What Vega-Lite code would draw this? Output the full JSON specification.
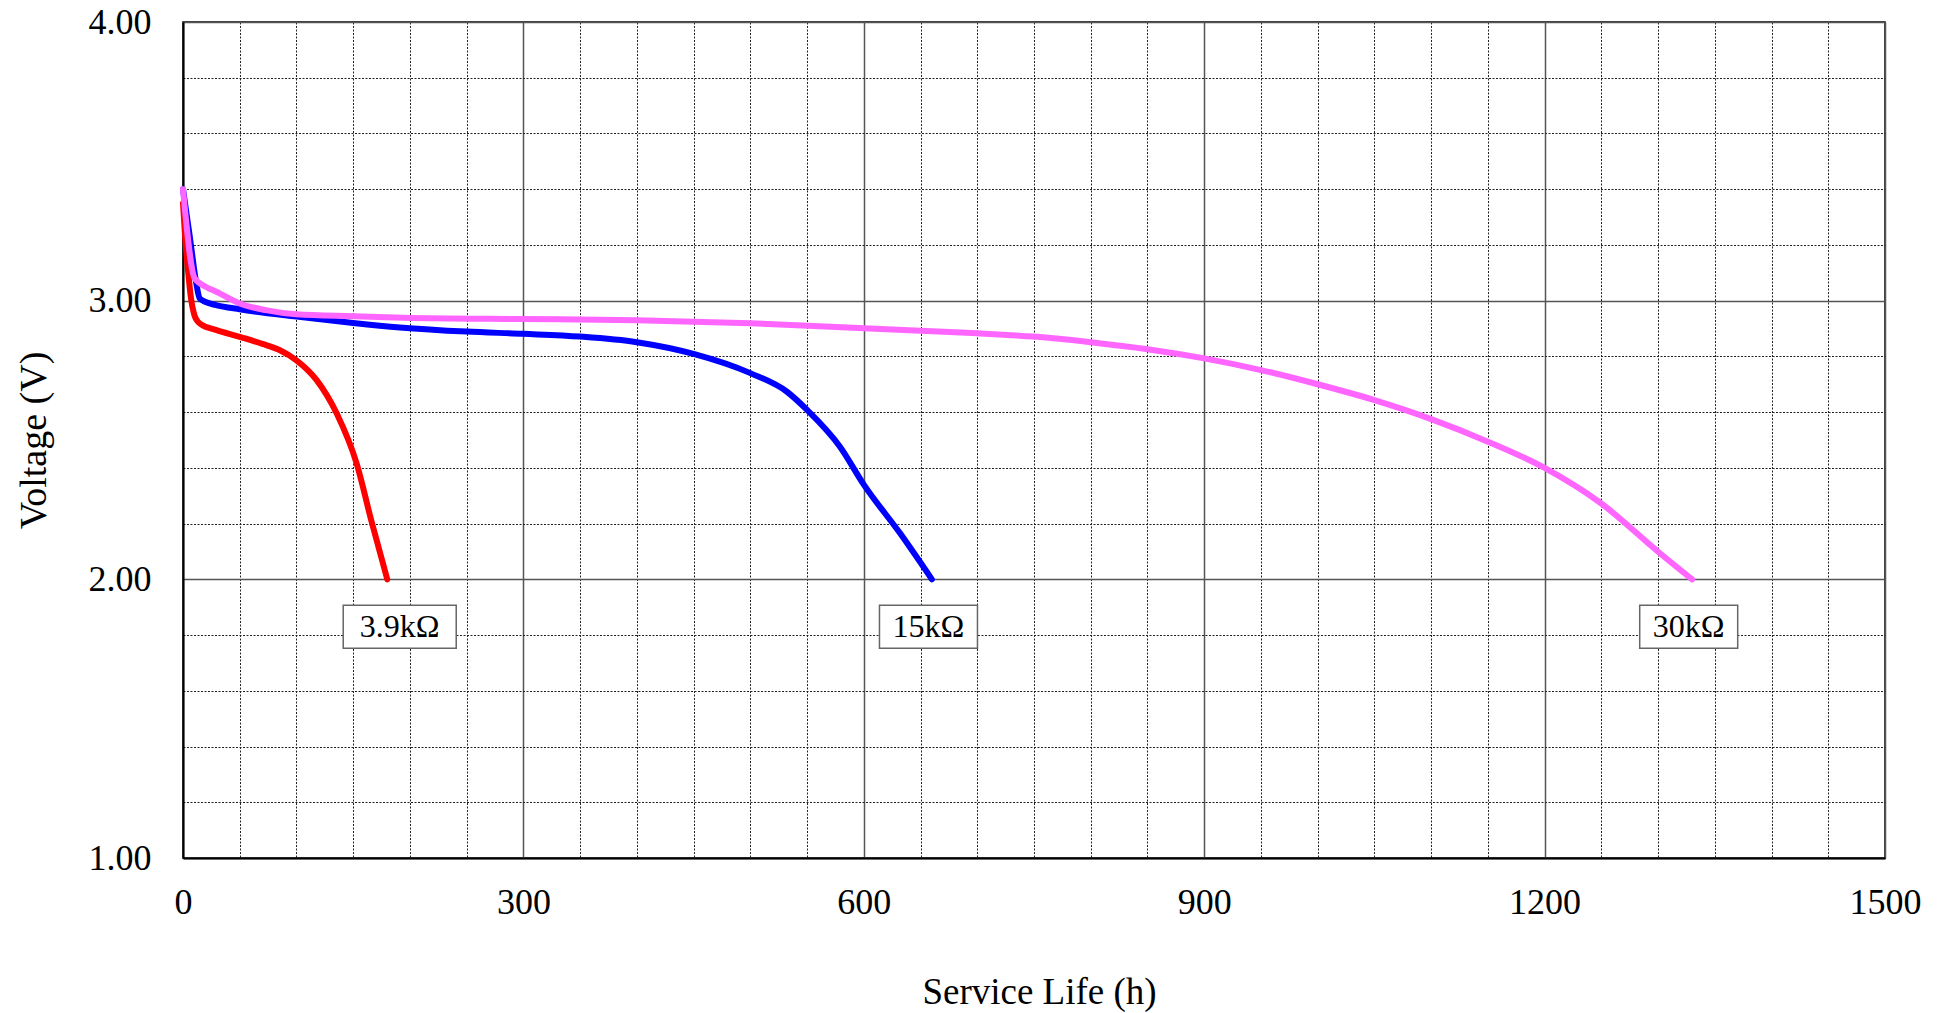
{
  "$schema": "https://vega.github.io/schema/vega-lite/v6.json",
  "width": 1702,
  "height": 836,
  "autosize": {"type": "none"},
  "padding": {"left": 183, "top": 22, "right": 63, "bottom": 155},
  "background": "white",
  "config": {
    "view": {"stroke": "#000", "strokeWidth": 1.5},
    "font": "Liberation Serif"
  },
  "datasets": {
    "curves": [
      {"series": "3.9kΩ", "h": 0, "v": 3.35},
      {"series": "3.9kΩ", "h": 2, "v": 3.22},
      {"series": "3.9kΩ", "h": 4.4, "v": 3.11},
      {"series": "3.9kΩ", "h": 7, "v": 3.01},
      {"series": "3.9kΩ", "h": 10.3, "v": 2.945},
      {"series": "3.9kΩ", "h": 13, "v": 2.925},
      {"series": "3.9kΩ", "h": 16, "v": 2.915},
      {"series": "3.9kΩ", "h": 29, "v": 2.895},
      {"series": "3.9kΩ", "h": 50, "v": 2.87},
      {"series": "3.9kΩ", "h": 70, "v": 2.845},
      {"series": "3.9kΩ", "h": 85, "v": 2.823},
      {"series": "3.9kΩ", "h": 100, "v": 2.786},
      {"series": "3.9kΩ", "h": 117.8, "v": 2.715},
      {"series": "3.9kΩ", "h": 135.5, "v": 2.595},
      {"series": "3.9kΩ", "h": 153, "v": 2.416},
      {"series": "3.9kΩ", "h": 166, "v": 2.21},
      {"series": "3.9kΩ", "h": 180, "v": 2.0},
      {"series": "15kΩ", "h": 0, "v": 3.40},
      {"series": "15kΩ", "h": 6, "v": 3.23},
      {"series": "15kΩ", "h": 11.8, "v": 3.06},
      {"series": "15kΩ", "h": 14.7, "v": 3.008},
      {"series": "15kΩ", "h": 20, "v": 2.995},
      {"series": "15kΩ", "h": 29, "v": 2.984},
      {"series": "15kΩ", "h": 50, "v": 2.969},
      {"series": "15kΩ", "h": 100, "v": 2.943},
      {"series": "15kΩ", "h": 150, "v": 2.92},
      {"series": "15kΩ", "h": 191, "v": 2.904},
      {"series": "15kΩ", "h": 250, "v": 2.889},
      {"series": "15kΩ", "h": 300, "v": 2.881},
      {"series": "15kΩ", "h": 350, "v": 2.871},
      {"series": "15kΩ", "h": 400, "v": 2.851},
      {"series": "15kΩ", "h": 450, "v": 2.809},
      {"series": "15kΩ", "h": 500, "v": 2.74},
      {"series": "15kΩ", "h": 532, "v": 2.674},
      {"series": "15kΩ", "h": 550, "v": 2.608},
      {"series": "15kΩ", "h": 579, "v": 2.476},
      {"series": "15kΩ", "h": 600, "v": 2.34},
      {"series": "15kΩ", "h": 632, "v": 2.165},
      {"series": "15kΩ", "h": 660, "v": 2.0},
      {"series": "30kΩ", "h": 0, "v": 3.40},
      {"series": "30kΩ", "h": 10.3, "v": 3.08},
      {"series": "30kΩ", "h": 20, "v": 3.05},
      {"series": "30kΩ", "h": 29.4, "v": 3.032},
      {"series": "30kΩ", "h": 50, "v": 2.99},
      {"series": "30kΩ", "h": 73, "v": 2.966},
      {"series": "30kΩ", "h": 100, "v": 2.951},
      {"series": "30kΩ", "h": 150, "v": 2.944},
      {"series": "30kΩ", "h": 194, "v": 2.939},
      {"series": "30kΩ", "h": 300, "v": 2.934},
      {"series": "30kΩ", "h": 400, "v": 2.93},
      {"series": "30kΩ", "h": 500, "v": 2.919},
      {"series": "30kΩ", "h": 600, "v": 2.901},
      {"series": "30kΩ", "h": 650, "v": 2.892},
      {"series": "30kΩ", "h": 700, "v": 2.883},
      {"series": "30kΩ", "h": 750, "v": 2.871},
      {"series": "30kΩ", "h": 800, "v": 2.851},
      {"series": "30kΩ", "h": 850, "v": 2.826},
      {"series": "30kΩ", "h": 900, "v": 2.793},
      {"series": "30kΩ", "h": 950, "v": 2.751},
      {"series": "30kΩ", "h": 1000, "v": 2.70},
      {"series": "30kΩ", "h": 1050, "v": 2.643},
      {"series": "30kΩ", "h": 1100, "v": 2.575},
      {"series": "30kΩ", "h": 1150, "v": 2.494},
      {"series": "30kΩ", "h": 1200, "v": 2.40},
      {"series": "30kΩ", "h": 1250, "v": 2.272},
      {"series": "30kΩ", "h": 1300, "v": 2.099},
      {"series": "30kΩ", "h": 1330, "v": 2.0}
    ],
    "labels": [
      {"label": "3.9kΩ", "h": 191, "v": 1.83},
      {"label": "15kΩ", "h": 657, "v": 1.83},
      {"label": "30kΩ", "h": 1327, "v": 1.83}
    ]
  },
  "encoding": {
    "x": {
      "field": "h",
      "type": "quantitative",
      "scale": {"domain": [0, 1500], "nice": false, "zero": false},
      "axis": {
        "title": "Service Life (h)",
        "titleFont": "Liberation Serif",
        "titleFontSize": 37,
        "titleFontWeight": "normal",
        "titleColor": "#000",
        "titleBaseline": "alphabetic",
        "titleY": 145,
        "titleX": 856,
        "values": [0, 50, 100, 150, 200, 250, 300, 350, 400, 450, 500, 550, 600, 650, 700, 750, 800, 850, 900, 950, 1000, 1050, 1100, 1150, 1200, 1250, 1300, 1350, 1400, 1450, 1500],
        "labelExpr": "datum.value % 300 === 0 ? format(datum.value, 'd') : ''",
        "labelFont": "Liberation Serif",
        "labelFontSize": 36,
        "labelColor": "#000",
        "labelPadding": 27,
        "labelFlush": false,
        "labelOverlap": false,
        "ticks": false,
        "tickSize": 0,
        "domain": true,
        "domainColor": "#000",
        "domainWidth": 2,
        "grid": true,
        "gridColor": {"condition": {"test": "datum.value % 300 === 0", "value": "#555"}, "value": "#222"},
        "gridWidth": {"condition": {"test": "datum.value % 300 === 0", "value": 1.5}, "value": 1},
        "gridDash": {"condition": {"test": "datum.value % 300 === 0", "value": []}, "value": [2, 1.5]},
        "gridOpacity": 1
      }
    },
    "y": {
      "field": "v",
      "type": "quantitative",
      "scale": {"domain": [1, 4], "nice": false, "zero": false},
      "axis": {
        "title": "Voltage (V)",
        "titleFont": "Liberation Serif",
        "titleFontSize": 38,
        "titleFontWeight": "normal",
        "titleColor": "#000",
        "titleAngle": -90,
        "titleBaseline": "alphabetic",
        "titleAlign": "center",
        "titleX": -138,
        "titleY": 418,
        "values": [1, 1.2, 1.4, 1.6, 1.8, 2, 2.2, 2.4, 2.6, 2.8, 3, 3.2, 3.4, 3.6, 3.8, 4],
        "labelExpr": "abs(datum.value - round(datum.value)) < 0.001 ? format(datum.value, '.2f') : ''",
        "labelFont": "Liberation Serif",
        "labelFontSize": 36,
        "labelColor": "#000",
        "labelPadding": 32,
        "labelOverlap": false,
        "labelFlush": false,
        "ticks": false,
        "tickSize": 0,
        "domain": true,
        "domainColor": "#000",
        "domainWidth": 2,
        "grid": true,
        "gridColor": {"condition": {"test": "abs(datum.value - round(datum.value)) < 0.001", "value": "#555"}, "value": "#222"},
        "gridWidth": {"condition": {"test": "abs(datum.value - round(datum.value)) < 0.001", "value": 1.5}, "value": 1},
        "gridDash": {"condition": {"test": "abs(datum.value - round(datum.value)) < 0.001", "value": []}, "value": [2, 1.5]},
        "gridOpacity": 1
      }
    }
  },
  "layer": [
    {
      "data": {"name": "curves"},
      "mark": {"type": "line", "strokeWidth": 6, "interpolate": "monotone", "strokeCap": "round", "strokeJoin": "round"},
      "encoding": {
        "color": {
          "field": "series",
          "type": "nominal",
          "scale": {"domain": ["3.9kΩ", "15kΩ", "30kΩ"], "range": ["#FF0000", "#0000FF", "#FF66FF"]},
          "legend": null
        },
        "order": {"field": "h", "type": "quantitative"}
      }
    },
    {
      "data": {"name": "labels"},
      "transform": [{"filter": "datum.label === '3.9kΩ'"}],
      "mark": {"type": "rect", "width": 113, "height": 43, "fill": "white", "stroke": "#666", "strokeWidth": 1.5}
    },
    {
      "data": {"name": "labels"},
      "transform": [{"filter": "datum.label !== '3.9kΩ'"}],
      "mark": {"type": "rect", "width": 98, "height": 43, "fill": "white", "stroke": "#666", "strokeWidth": 1.5}
    },
    {
      "data": {"name": "labels"},
      "mark": {"type": "text", "font": "Liberation Serif", "fontSize": 32, "color": "#000", "align": "center", "baseline": "middle"},
      "encoding": {"text": {"field": "label", "type": "nominal"}}
    }
  ]
}
